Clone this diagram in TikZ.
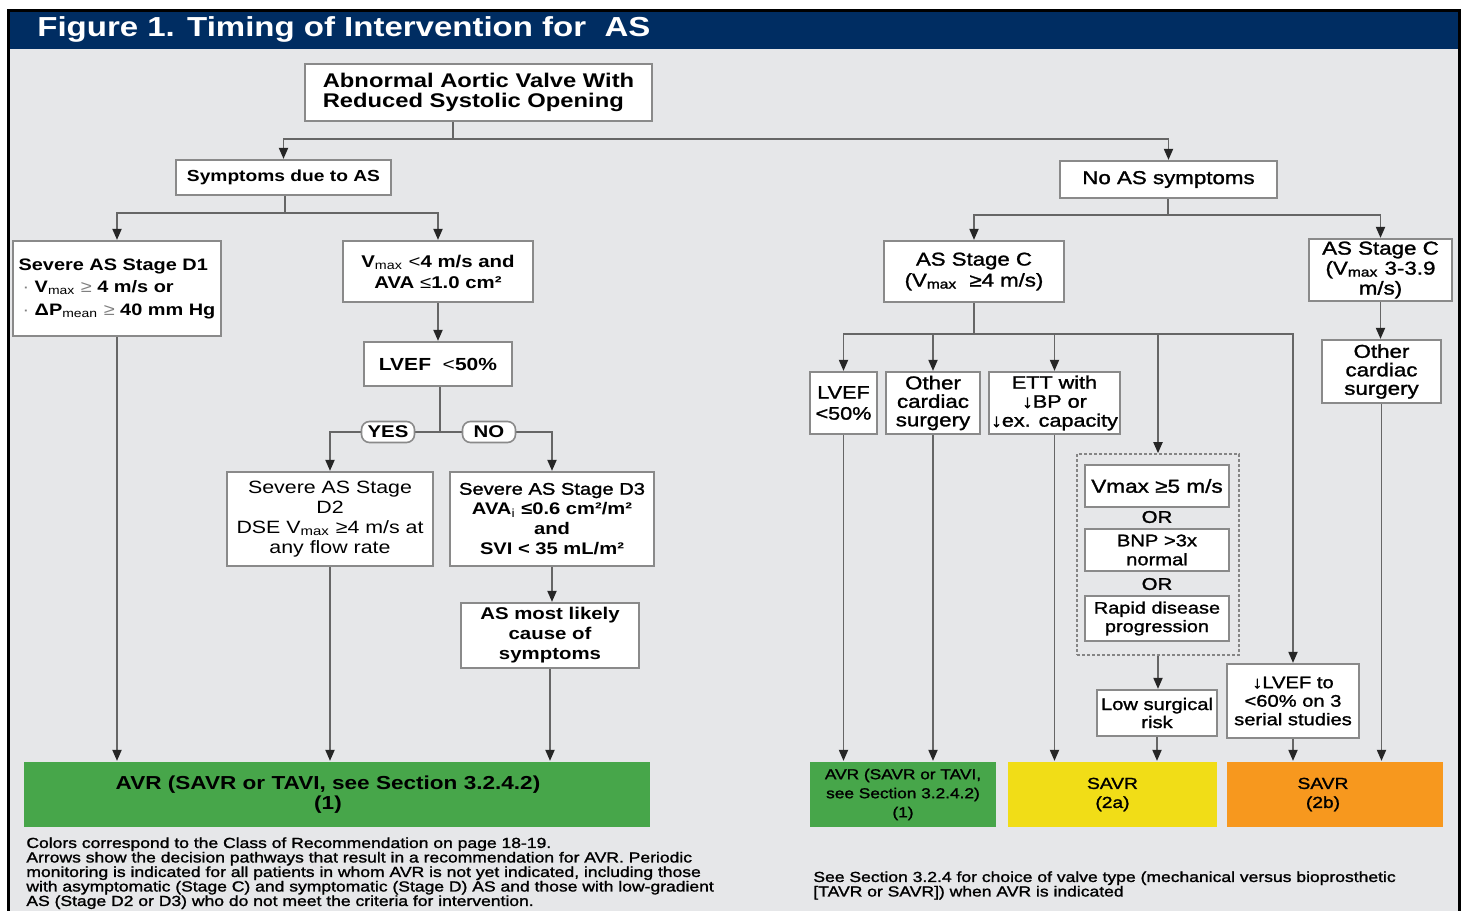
\documentclass[tikz,border=0pt]{standalone}
\usepackage{fontspec}
\setmainfont{Liberation Sans}[FakeStretch=1.2]
\newfontfamily\medfont{Liberation Sans}[FakeStretch=1.2,FakeBold=1.4]
\usetikzlibrary{arrows.meta}
\definecolor{bgc}{HTML}{E6E7E9}
\definecolor{navy}{HTML}{002D62}
\definecolor{cgreen}{HTML}{47A64A}
\definecolor{cyellow}{HTML}{F1DD17}
\definecolor{corange}{HTML}{F7981E}
\definecolor{edge}{HTML}{8A8A8A}
\definecolor{conn}{HTML}{666666}
\newcommand\sbs[1]{\textsubscript{\mdseries #1}}
\newcommand\fsz[2]{\fontsize{#1}{#2}\selectfont}
\newcommand\bxnode[7][]{%
  \pgfmathsetmacro\bxw{(#5-#3)/2}%
  \pgfmathsetmacro\bxh{(#6-#4)/2}%
  \pgfmathsetmacro\bxx{(#3+#5)/2}%
  \pgfmathsetmacro\bxy{(#4+#6)/2}%
  \node[box,minimum width=\bxw pt,minimum height=\bxh pt,#1] (#2) at (\bxx,\bxy) {#7};}
\tikzset{
 box/.style={draw=edge, line width=1.1pt, fill=white, inner sep=1pt, align=center},
 ln/.style={draw=conn, line width=0.9pt},
 arr/.style={ln, -{Triangle[length=5.5pt,width=4.5pt,color=black!85]}},
 lab/.style={draw=edge, line width=0.8pt, fill=white, rounded corners=4pt, inner sep=0pt, minimum width=26.5pt, minimum height=10.5pt, font=\bfseries\fsz{8.5}{9}},
 ortext/.style={inner sep=0pt, font=\medfont\fsz{8.5}{9}},
 note/.style={inner sep=0pt, align=left, anchor=north west, font=\medfont\fsz{7.3}{7.25}},
}
\begin{document}
\begin{tikzpicture}[x=0.5pt,y=-0.5pt]
\useasboundingbox (0,0) rectangle (1464,911);
\fill[bgc] (8,10) rectangle (1459,911);
\fill[navy] (8,10) rectangle (1459,49);
\draw[black,line width=1.5pt] (8,911) -- (8,10) -- (1459,10) -- (1459,911);
\node[anchor=west,inner sep=0pt,text=white,font=\bfseries\fsz{13.75}{14}] (title) at (37,29) {Figure 1. Timing of Intervention for\ \ AS};

% left branch
\bxnode[font=\bfseries\fsz{9.9}{10}, align=left]{top}{305}{64}{652}{121}{Abnormal Aortic Valve With\\Reduced Systolic Opening}
\bxnode[font=\bfseries\fsz{8}{9}]{sym}{176}{160}{391}{195}{Symptoms due to AS}
\bxnode[font=\medfont\fsz{9.3}{10}]{noas}{1060}{161}{1277}{198}{No AS symptoms}
\bxnode[font=\bfseries\fsz{8.3}{11.25}, align=left]{d1}{13}{241}{221}{336}{Severe AS Stage D1\\\hspace*{2pt}{\mdseries\color{gray}·} V\sbs{max} {\mdseries\color{gray}≥} 4 m/s or\\\hspace*{2pt}{\mdseries\color{gray}·} ΔP\sbs{mean} {\mdseries\color{gray}≥} 40 mm Hg}
\bxnode[font=\bfseries\fsz{8.5}{10.5}]{vmx}{343}{241}{533}{302}{V\sbs{max} {\mdseries <}4 m/s and\\AVA {\mdseries ≤}1.0 cm²}
\bxnode[font=\bfseries\fsz{8.75}{9}]{lvef}{364}{342}{512}{386}{LVEF\ \ {\mdseries <}50\%}
\bxnode[font=\fsz{8.9}{10}]{d2}{227}{472}{433}{566}{Severe AS Stage\\D2\\DSE V\sbs{max} ≥4 m/s at\\any flow rate}
\bxnode[font=\fsz{8.4}{10}]{d3}{450}{472}{654}{566}{{\medfont Severe AS Stage D3}\\{\bfseries AVA\sbs{i} ≤0.6 cm²/m²}\\{\bfseries and}\\{\bfseries SVI < 35 mL/m²}}
\bxnode[font=\bfseries\fsz{8.5}{10}]{likely}{461}{603}{639}{668}{AS most likely\\cause of\\symptoms}
\bxnode[draw=none, fill=cgreen, font=\bfseries\fsz{9.4}{10}]{avr}{24}{762}{650}{827}{AVR (SAVR or TAVI, see Section 3.2.4.2)\hspace*{9pt}\\(1)\hspace*{9pt}}

% right branch
\bxnode[font=\medfont\fsz{9.25}{10.5}]{sc}{884}{241}{1064}{302}{AS Stage C\\(V\sbs{max}\ \ ≥4 m/s)}
\bxnode[font=\medfont\fsz{9.3}{10}]{sc2}{1309}{239}{1452}{301}{AS Stage C\\(V\sbs{max} 3-3.9\\m/s)}
\bxnode[font=\medfont\fsz{9}{10.5}]{lv2}{810}{372}{877}{434}{LVEF\\<50\%}
\bxnode[font=\medfont\fsz{9.3}{9.25}]{oc1}{886}{372}{980}{434}{Other\\cardiac\\surgery}
\bxnode[font=\medfont\fsz{9}{9.5}]{ett}{990}{372}{1119}{434}{ETT with\\↓BP or\\↓ex. capacity}
\bxnode[draw=conn!80, dash pattern=on 1.5pt off 1pt, line width=0.8pt, fill=none]{dbox}{1077}{454}{1239}{655}{}
\bxnode[font=\medfont\fsz{9.4}{10}]{v5}{1085}{465}{1229}{507}{Vmax ≥5 m/s}
\node[ortext] (or1) at (1157,517) {OR};
\bxnode[font=\medfont\fsz{8.4}{9.5}]{bnp}{1085}{529}{1229}{571}{BNP >3x\\normal}
\node[ortext] (or2) at (1157,584) {OR};
\bxnode[font=\medfont\fsz{8.3}{9.25}]{rapid}{1085}{596}{1229}{641}{Rapid disease\\progression}
\bxnode[font=\medfont\fsz{8.4}{9}]{low}{1097}{690}{1217}{736}{Low surgical\\risk}
\bxnode[font=\medfont\fsz{8.4}{9.25}]{lvd}{1227}{664}{1359}{738}{↓LVEF to\\<60\% on 3\\serial studies}
\bxnode[font=\medfont\fsz{9.3}{9.25}]{oc2}{1322}{340}{1441}{403}{Other\\cardiac\\surgery}
\bxnode[draw=none, fill=cgreen, font=\medfont\fsz{7.2}{9.5}]{g2}{810}{762}{996}{827}{AVR (SAVR or TAVI,\\see Section 3.2.4.2)\\(1)}
\bxnode[draw=none, fill=cyellow, font=\medfont\fsz{8}{9.5}]{yel}{1008}{762}{1217}{827}{SAVR\\(2a)}
\bxnode[draw=none, fill=corange, font=\medfont\fsz{8}{9.5}]{org}{1227}{762}{1443}{827}{SAVR\hspace*{12pt}\\(2b)\hspace*{12pt}}

% notes
\node[note] (n1) at (26,837) {Colors correspond to the Class of Recommendation on page 18-19.\\Arrows show the decision pathways that result in a recommendation for AVR. Periodic\\monitoring is indicated for all patients in whom AVR is not yet indicated, including those\\with asymptomatic (Stage C) and symptomatic (Stage D) AS and those with low-gradient\\AS (Stage D2 or D3) who do not meet the criteria for intervention.};
\node[note] (n2) at (813,871) {See Section 3.2.4 for choice of valve type (mechanical versus bioprosthetic\\{[}TAVR or SAVR{]}) when AVR is indicated};

% connectors left
\coordinate (j1) at (453,139);
\draw[ln] (top.south -| j1) -- (j1);
\draw[arr] (j1) -| (sym.north);
\draw[arr] (j1) -| (noas.north);
\coordinate (j2) at (285,213);
\draw[ln] (sym.south -| j2) -- (j2);
\draw[arr] (j2) -| (d1.north);
\draw[arr] (j2) -| (vmx.north);
\draw[arr] (vmx) -- (lvef);
\coordinate (j3) at (440,432);
\draw[ln] (lvef.south -| j3) -- (j3);
\draw[arr] (j3) -| (d2.north);
\draw[arr] (j3) -| (d3.north);
\node[lab] (yes) at (388,432) {YES};
\node[lab] (no) at (489,432) {NO};
\draw[arr] (d3.south) -- (d3.south |- likely.north);
\draw[arr] (d1.south) -- (d1.south |- avr.north);
\draw[arr] (d2.south) -- (d2.south |- avr.north);
\draw[arr] (likely.south) -- (likely.south |- avr.north);

% connectors right
\coordinate (j4) at (1168,215);
\draw[ln] (noas.south -| j4) -- (j4);
\draw[arr] (j4) -| (sc.north);
\draw[arr] (j4) -| (sc2.north);
\coordinate (j5) at (974,334);
\draw[ln] (sc.south -| j5) -- (j5);
\draw[arr] (j5) -| (lv2.north);
\draw[arr] (j5) -| (oc1.north);
\draw[arr] (j5) -| (ett.north);
\draw[arr] (j5) -| (dbox.north);
\draw[arr] (j5) -| (lvd.north);
\draw[arr] (sc2.south) -- (sc2.south |- oc2.north);
\draw[arr] (dbox.south) -- (dbox.south |- low.north);
\draw[arr] (lv2.south) -- (lv2.south |- g2.north);
\draw[arr] (oc1.south) -- (oc1.south |- g2.north);
\draw[arr] (ett.south) -- (ett.south |- yel.north);
\draw[arr] (low.south) -- (low.south |- yel.north);
\draw[arr] (lvd.south) -- (lvd.south |- org.north);
\draw[arr] (oc2.south) -- (oc2.south |- org.north);
\end{tikzpicture}
\end{document}
